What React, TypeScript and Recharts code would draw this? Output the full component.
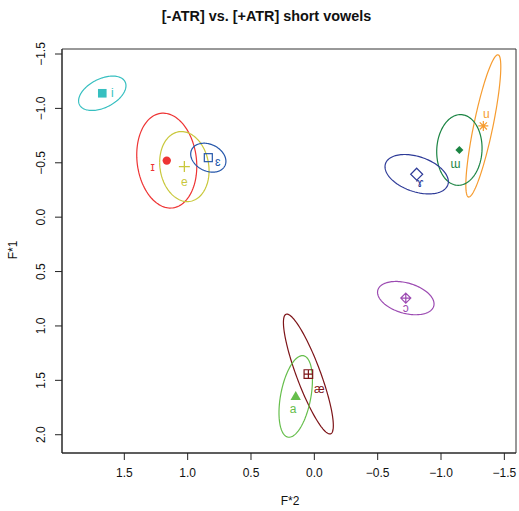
import React from "react";
import { ScatterChart, Scatter, XAxis, YAxis, ReferenceArea } from "recharts";

// Normalised formants: F*2 (front/back) and F*1 (height), one entry per vowel
const vowels = ["i", "ɪ", "e", "ɛ", "u", "ɯ", "ɤ", "ɔ", "æ", "a"];
const meanF2 = [1.674, 1.165, 1.026, 0.837, -1.334, -1.145, -0.808, -0.722, 0.047, 0.147];
const meanF1 = [-1.139, -0.52, -0.465, -0.547, -0.839, -0.618, -0.395, 0.744, 1.442, 1.648];
const sdF2 = [0.187, 0.237, 0.195, 0.139, 0.138, 0.179, 0.25, 0.223, 0.197, 0.132];
const sdF1 = [0.158, 0.436, 0.322, 0.133, 0.654, 0.325, 0.181, 0.153, 0.551, 0.375];
const corrF = [0.44, -0.12, -0.12, -0.25, 0.83, 0.05, -0.38, -0.35, -0.86, 0.4];

const xTicks = [1.5, 1.0, 0.5, 0, -0.5, -1.0, -1.5];
const yTicks = [-1.5, -1.0, -0.5, 0, 0.5, 1.0, 1.5, 2.0];

const X_DOMAIN: [number, number] = [-1.592, 1.992];
const Y_DOMAIN: [number, number] = [-1.546, 2.168];

const COLORS = [
  "#36bfc0", // i
  "#ee3434", // ɪ
  "#c9c83c", // e
  "#2456aa", // ɛ
  "#f69c30", // u
  "#1b8443", // ɯ
  "#2e3b98", // ɤ
  "#9c4bb2", // ɔ
  "#7d1418", // æ
  "#66be4c", // a
];

// R-style plotting symbols
const MARKERS = [
  "square",
  "circle",
  "plus",
  "openSquare",
  "asterisk",
  "diamond",
  "openDiamond",
  "diamondPlus",
  "squarePlus",
  "triangle",
];

// where each vowel label sits relative to its mean marker (px)
const LABEL_OFFSETS: [number, number][] = [
  [10, 0],
  [-14, 6],
  [0, 15.5],
  [9.5, 4],
  [3, -12],
  [-4, 14],
  [3, 9],
  [0, 10],
  [11, 15],
  [-2.5, 12.5],
];

const FONT = '"Liberation Sans", Arial, "DejaVu Sans", sans-serif';

// outline of the spread ellipse around each vowel mean
function ellipseOutline(i: number) {
  const pts: { x: number; y: number }[] = [];
  const r = corrF[i];
  const s = Math.sqrt(1 - r * r);
  const n = 120;
  for (let k = 0; k <= n; k++) {
    const t = (k / n) * Math.PI * 2;
    pts.push({
      x: meanF2[i] + sdF2[i] * Math.cos(t),
      y: meanF1[i] + sdF1[i] * (r * Math.cos(t) + s * Math.sin(t)),
    });
  }
  return pts;
}

const meanPoints = vowels.map((v, i) => ({ x: meanF2[i], y: meanF1[i], idx: i }));

function Marker(props: any) {
  const { cx, cy, payload } = props;
  const i = payload.idx;
  const c = COLORS[i];
  const [dx, dy] = LABEL_OFFSETS[i];
  let mark: React.ReactNode = null;
  switch (MARKERS[i]) {
    case "square":
      mark = <rect x={cx - 4.3} y={cy - 4.3} width={8.6} height={8.6} fill={c} />;
      break;
    case "circle":
      mark = <circle cx={cx} cy={cy} r={4.2} fill={c} />;
      break;
    case "plus":
      mark = (
        <path d={`M${cx - 5.5},${cy}H${cx + 5.5}M${cx},${cy - 5.5}V${cy + 5.5}`} stroke={c} strokeWidth={1.3} />
      );
      break;
    case "openSquare":
      mark = <rect x={cx - 4} y={cy - 4} width={8} height={8} fill="none" stroke={c} strokeWidth={1.2} />;
      break;
    case "asterisk":
      mark = (
        <path
          d={`M${cx - 5},${cy}H${cx + 5}M${cx},${cy - 5}V${cy + 5}M${cx - 3.6},${cy - 3.6}L${cx + 3.6},${cy + 3.6}M${cx - 3.6},${cy + 3.6}L${cx + 3.6},${cy - 3.6}`}
          stroke={c}
          strokeWidth={1.2}
        />
      );
      break;
    case "diamond":
      mark = <path d={`M${cx},${cy - 4}L${cx + 4},${cy}L${cx},${cy + 4}L${cx - 4},${cy}Z`} fill={c} />;
      break;
    case "openDiamond":
      mark = (
        <path
          d={`M${cx},${cy - 6}L${cx + 6},${cy}L${cx},${cy + 6}L${cx - 6},${cy}Z`}
          fill="none"
          stroke={c}
          strokeWidth={1.2}
        />
      );
      break;
    case "diamondPlus":
      mark = (
        <path
          d={`M${cx},${cy - 5}L${cx + 5},${cy}L${cx},${cy + 5}L${cx - 5},${cy}ZM${cx - 5},${cy}H${cx + 5}M${cx},${cy - 5}V${cy + 5}`}
          fill="none"
          stroke={c}
          strokeWidth={1.2}
        />
      );
      break;
    case "squarePlus":
      mark = (
        <path
          d={`M${cx - 4.3},${cy - 4.3}H${cx + 4.3}V${cy + 4.3}H${cx - 4.3}ZM${cx - 4.3},${cy}H${cx + 4.3}M${cx},${cy - 4.3}V${cy + 4.3}`}
          fill="none"
          stroke={c}
          strokeWidth={1.2}
        />
      );
      break;
    case "triangle":
      mark = <path d={`M${cx},${cy - 5.5}L${cx + 5.2},${cy + 3.5}L${cx - 5.2},${cy + 3.5}Z`} fill={c} />;
      break;
  }
  return (
    <g>
      {mark}
      <text
        x={cx + dx}
        y={cy + dy}
        textAnchor="middle"
        dominantBaseline="central"
        fill={c}
        fontSize={12}
        fontFamily={FONT}
      >
        {vowels[i]}
      </text>
    </g>
  );
}

const fmt = (v: number) => v.toFixed(1).replace("-", "\u2212");

function XTick(props: any) {
  const { x, y, payload } = props;
  return (
    <text x={x} y={y + 11} textAnchor="middle" dominantBaseline="central" fontSize={12} fontFamily={FONT} fill="#111">
      {fmt(payload.value)}
    </text>
  );
}

function YTick(props: any) {
  const { x, y, payload } = props;
  const tx = x - 11.5;
  return (
    <text
      x={tx}
      y={y}
      transform={`rotate(-90, ${tx}, ${y})`}
      textAnchor="middle"
      dominantBaseline="central"
      fontSize={12}
      fontFamily={FONT}
      fill="#111"
    >
      {fmt(payload.value)}
    </text>
  );
}

const noDot = () => <g />;

export default function App() {
  return (
    <div style={{ position: "absolute", left: 0, top: 0, width: 519, height: 511, background: "#fff" }}>
      <ScatterChart width={519} height={511} margin={{ top: 49, right: 3, bottom: 0, left: 0 }}>
        <XAxis
          type="number"
          dataKey="x"
          domain={X_DOMAIN}
          allowDataOverflow
          reversed
          ticks={xTicks}
          interval={0}
          height={58}
          tickSize={7}
          tick={<XTick />}
          tickLine={{ stroke: "#222" }}
          axisLine={{ stroke: "#222" }}
        />
        <YAxis
          type="number"
          dataKey="y"
          domain={Y_DOMAIN}
          allowDataOverflow
          reversed
          ticks={yTicks}
          interval={0}
          width={62}
          tickSize={7}
          tick={<YTick />}
          tickLine={{ stroke: "#222" }}
          axisLine={{ stroke: "#222" }}
        />
        {/* plot frame */}
        <ReferenceArea
          x1={X_DOMAIN[0]}
          x2={X_DOMAIN[1]}
          y1={Y_DOMAIN[0]}
          y2={Y_DOMAIN[1]}
          fill="none"
          fillOpacity={0}
          stroke="#333"
          strokeWidth={1}
          ifOverflow="visible"
        />
        {vowels.map((v, i) => (
          <Scatter
            key={`ell-${v}`}
            data={ellipseOutline(i)}
            fill={COLORS[i]}
            line={{ stroke: COLORS[i], strokeWidth: 1.2 }}
            shape={noDot}
            isAnimationActive={false}
          />
        ))}
        <Scatter data={meanPoints} shape={<Marker />} isAnimationActive={false} />
      </ScatterChart>
      <svg
        width={519}
        height={511}
        style={{ position: "absolute", left: 0, top: 0, pointerEvents: "none" }}
      >
        <text x={266.5} y={16} textAnchor="middle" dominantBaseline="central" fontSize={14.4} fontWeight="bold" fontFamily={FONT} fill="#111">
          [-ATR] vs. [+ATR] short vowels
        </text>
        <text x={290} y={501} textAnchor="middle" dominantBaseline="central" fontSize={12} fontFamily={FONT} fill="#111">
          F*2
        </text>
        <text
          x={13}
          y={250}
          transform="rotate(-90, 13, 250)"
          textAnchor="middle"
          dominantBaseline="central"
          fontSize={12}
          fontFamily={FONT}
          fill="#111"
        >
          F*1
        </text>
      </svg>
    </div>
  );
}
